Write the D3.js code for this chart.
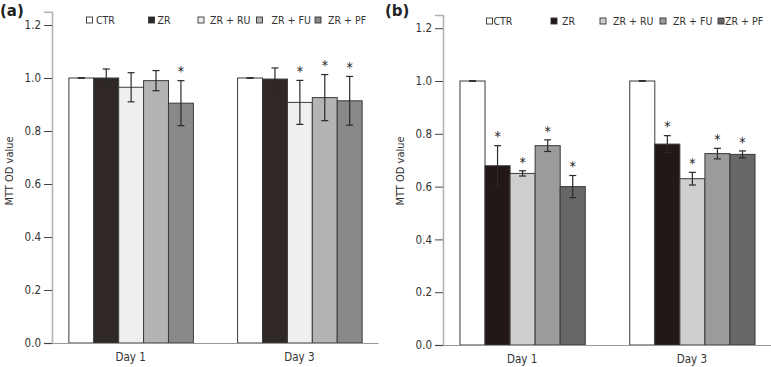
<!DOCTYPE html>
<html><head><meta charset="utf-8">
<script src="https://cdn.jsdelivr.net/npm/d3@7"></script>
<style>
body{margin:0;background:#fff;}
text{font-family:"DejaVu Sans Condensed","DejaVu Sans",sans-serif;fill:#333;}
</style></head>
<body><svg id="c" width="771" height="367"></svg>
<script>
const days = ["Day 1", "Day 3"];
const series = ["CTR", "ZR", "ZR + RU", "ZR + FU", "ZR + PF"];
const yTicks = [0.0, 0.2, 0.4, 0.6, 0.8, 1.0, 1.2];

// Panel (a)
const aDay1 = [1.0, 1.0, 0.965, 0.99, 0.905];
const aDay1Err = [0.001, 0.034, 0.055, 0.038, 0.085];
const aDay3 = [1.0, 0.996, 0.908, 0.926, 0.914];
const aDay3Err = [0.001, 0.042, 0.083, 0.087, 0.092];
const aDay1Star = [false, false, false, false, true];
const aDay3Star = [false, false, true, true, true];
const aColors = ["#ffffff", "#2f2826", "#efefef", "#b4b4b4", "#898989"];

// Panel (b)
const bDay1 = [1.0, 0.679, 0.650, 0.755, 0.600];
const bDay1Err = [0.001, 0.076, 0.010, 0.022, 0.042];
const bDay3 = [1.0, 0.761, 0.630, 0.725, 0.722];
const bDay3Err = [0.001, 0.032, 0.024, 0.020, 0.013];
const bDay1Star = [false, true, true, true, true];
const bDay3Star = [false, true, true, true, true];
const bColors = ["#ffffff", "#221816", "#cfcfcf", "#9b9b9b", "#676767"];

const svg = d3.select("#c");

function panel(cfg) {
  const g = svg.append("g");
  const y = d3.scaleLinear().domain([0, 1.25]).range([cfg.y0, cfg.y0 - 1.25 * cfg.unit]);
  const x0 = d3.scaleBand().domain(days).range([cfg.xl, cfg.xr]).paddingInner(0.262).paddingOuter(0.097);
  const x1 = d3.scaleBand().domain(series).range([0, x0.bandwidth()]);
  const color = d3.scaleOrdinal().domain(series).range(cfg.colors);

  const data = [];
  days.forEach((d, di) => {
    series.forEach((s, si) => {
      data.push({day: d, s: s, v: cfg.vals[di][si], e: cfg.errs[di][si], star: cfg.stars[di][si]});
    });
  });

  g.selectAll("rect.bar").data(data).join("rect").attr("class", "bar")
    .attr("x", d => x0(d.day) + x1(d.s) + 0.5)
    .attr("width", x1.bandwidth())
    .attr("y", d => y(d.v))
    .attr("height", d => y(0) - y(d.v))
    .attr("fill", d => color(d.s))
    .attr("stroke", "#3a3a3a").attr("stroke-width", 1);

  const eg = g.selectAll("g.err").data(data).join("g").attr("class", "err");
  const cx = d => x0(d.day) + x1(d.s) + 0.5 + x1.bandwidth() / 2;
  eg.append("line").attr("x1", cx).attr("x2", cx)
    .attr("y1", d => y(d.v + d.e)).attr("y2", d => y(d.v - d.e))
    .attr("stroke", "#2a2a2a").attr("stroke-width", 1.2);
  eg.append("line").attr("x1", d => cx(d) - 3.5).attr("x2", d => cx(d) + 3.5)
    .attr("y1", d => y(d.v + d.e)).attr("y2", d => y(d.v + d.e))
    .attr("stroke", "#2a2a2a").attr("stroke-width", 1.2);
  eg.append("line").attr("x1", d => cx(d) - 3.5).attr("x2", d => cx(d) + 3.5)
    .attr("y1", d => y(d.v - d.e)).attr("y2", d => y(d.v - d.e))
    .attr("stroke", "#2a2a2a").attr("stroke-width", 1.2);

  g.selectAll("text.star").data(data.filter(d => d.star)).join("text").attr("class", "star")
    .attr("x", cx).attr("y", d => y(d.v + d.e) - 14)
    .attr("dy", "0.7em").attr("text-anchor", "middle")
    .style("font-size", "14px").style("fill", "#222").text("*");

  const ya = g.append("g").attr("transform", `translate(${cfg.xl},0)`)
    .call(d3.axisLeft(y).tickValues(yTicks).tickFormat(d3.format(".1f")).tickSize(8).tickPadding(3));
  ya.select(".domain").attr("stroke", "#b3b3b3").attr("stroke-width", 1.6);
  ya.selectAll(".tick line").attr("stroke", "#444");
  ya.selectAll(".tick text").style("font-size", "11.5px").style("fill", "#333")
    .style("font-family", "'DejaVu Sans Condensed','DejaVu Sans',sans-serif");

  const xa = g.append("g").attr("transform", `translate(0,${y(0)})`)
    .call(d3.axisBottom(x0).tickSize(0).tickPadding(10));
  xa.select(".domain").attr("stroke", "#999").attr("stroke-width", 1.2);
  xa.selectAll(".tick text").style("font-size", "11.5px").style("fill", "#333")
    .style("font-family", "'DejaVu Sans Condensed','DejaVu Sans',sans-serif");

  g.append("text").attr("transform", `translate(${cfg.lblX},${171}) rotate(-90)`)
    .attr("text-anchor", "middle").attr("dy", "0.35em")
    .style("font-size", "11px").text("MTT OD value");

  g.append("text").attr("x", cfg.pX).attr("y", 16)
    .style("font-size", "15px").style("font-weight", "bold").style("fill", "#222")
    .style("font-family", "'DejaVu Sans','Noto Sans',sans-serif").text(cfg.label);

  const lg = g.selectAll("g.leg").data(series).join("g").attr("class", "leg")
    .attr("transform", (d, i) => `translate(${cfg.legX[i]},${cfg.legY})`);
  lg.append("rect").attr("x", 0).attr("y", -3).attr("width", 6).attr("height", 6)
    .attr("fill", d => color(d)).attr("stroke", "#333").attr("stroke-width", 0.9);
  lg.append("text").attr("x", (d, i) => cfg.legTx[i]).attr("y", 0).attr("dy", "0.35em")
    .style("font-size", "10.5px").text(d => d);
}

panel({
  xl: 52, xr: 378, y0: 343, unit: 265,
  vals: [aDay1, aDay3], errs: [aDay1Err, aDay3Err], stars: [aDay1Star, aDay3Star],
  colors: aColors, lblX: 9, pX: 0, label: "(a)",
  legX: [86.5, 148.5, 198, 256.5, 315], legTx: [9.5, 9, 12, 15, 13], legY: 20
});
panel({
  xl: 443, xr: 771, y0: 345, unit: 264,
  vals: [bDay1, bDay3], errs: [bDay1Err, bDay3Err], stars: [bDay1Star, bDay3Star],
  colors: bColors, lblX: 400, pX: 385, label: "(b)",
  legX: [486.5, 551, 600, 660, 718], legTx: [7, 11, 13, 13, 7], legY: 21
});
</script></body></html>
